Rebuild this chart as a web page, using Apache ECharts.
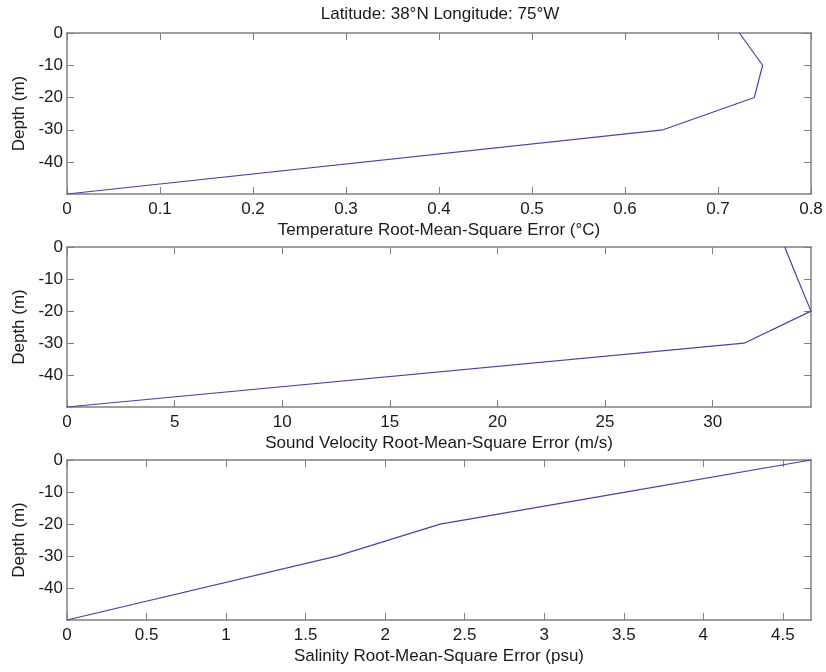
<!DOCTYPE html>
<html>
<head>
<meta charset="utf-8">
<script src="https://cdn.jsdelivr.net/npm/echarts@6/dist/echarts.min.js"></script>
<style>html,body{margin:0;padding:0;background:#fff}#c{width:826px;height:672px}</style>
</head>
<body>
<div id="c"></div>
<script>
// ---- data ----
const depth = [0, -10, -20, -30, -49.9];
const tempRmse = [0.723, 0.748, 0.739, 0.641, 0];
const soundRmse = [33.35, 33.95, 34.57, 31.46, 0];
const salRmse = [4.677, 3.51, 2.346, 1.696, 0];
const depthTicks = [0, -10, -20, -30, -40];
const tempTicks = [0, 0.1, 0.2, 0.3, 0.4, 0.5, 0.6, 0.7, 0.8];
const soundTicks = [0, 5, 10, 15, 20, 25, 30];
const salTicks = [0, 0.5, 1, 1.5, 2, 2.5, 3, 3.5, 4, 4.5];
const titleText = 'Latitude: 38°N Longitude: 75°W';
const xNames = ['Temperature Root-Mean-Square Error (°C)', 'Sound Velocity Root-Mean-Square Error (m/s)', 'Salinity Root-Mean-Square Error (psu)'];
const yName = 'Depth (m)';

const FONT = 'Liberation Sans, Arial, sans-serif';
const TXT = '#1a1a1a';
const AX = '#808080';
const LINE = '#4444aa';

const panels = [
  {vals: tempRmse, ticks: tempTicks, xmax: 0.8},
  {vals: soundRmse, ticks: soundTicks, xmax: Math.max(...soundRmse)},
  {vals: salRmse, ticks: salTicks, xmax: Math.max(...salRmse)}
];
const tops = [33, 247, 460];
const heights = [161, 160, 160];
const ymin = Math.min(...depth);

const grid = [], xAxis = [], yAxis = [], series = [];
panels.forEach((p, i) => {
  grid.push({left: 67, right: 15, top: tops[i], height: heights[i], show: false, containLabel: false});
  const tickBase = {show: true, inside: true, length: 7, lineStyle: {color: AX, width: 1}};
  const lineBase = {show: true, onZero: false, lineStyle: {color: AX, width: 1.5}};
  xAxis.push({
    type: 'value', gridIndex: i, position: 'bottom', min: 0, max: p.xmax,
    axisLine: lineBase,
    axisTick: Object.assign({customValues: p.ticks}, tickBase),
    axisLabel: {customValues: p.ticks, color: TXT, fontSize: 17, fontFamily: FONT, margin: 7},
    splitLine: {show: false},
    name: xNames[i], nameLocation: 'middle', nameGap: 28,
    nameTextStyle: {color: TXT, fontSize: 17, fontFamily: FONT}
  });
  xAxis.push({
    type: 'value', gridIndex: i, position: 'top', min: 0, max: p.xmax,
    axisLine: lineBase,
    axisTick: Object.assign({customValues: p.ticks}, tickBase),
    axisLabel: {show: false},
    splitLine: {show: false}
  });
  yAxis.push({
    type: 'value', gridIndex: i, position: 'left', min: ymin, max: 0,
    axisLine: lineBase,
    axisTick: Object.assign({customValues: depthTicks}, tickBase),
    axisLabel: {customValues: depthTicks, color: TXT, fontSize: 17, fontFamily: FONT, margin: 4},
    splitLine: {show: false},
    name: yName, nameLocation: 'middle', nameGap: 39,
    nameTextStyle: {color: TXT, fontSize: 17, fontFamily: FONT}
  });
  yAxis.push({
    type: 'value', gridIndex: i, position: 'right', min: ymin, max: 0,
    axisLine: lineBase,
    axisTick: Object.assign({customValues: depthTicks}, tickBase),
    axisLabel: {show: false},
    splitLine: {show: false}
  });
  series.push({
    type: 'line', xAxisIndex: 2 * i, yAxisIndex: 2 * i,
    data: p.vals.map((v, k) => [v, depth[k]]),
    showSymbol: false, symbol: 'none', clip: false,
    lineStyle: {color: LINE, width: 1.2}, animation: false
  });
});

const chart = echarts.init(document.getElementById('c'), null, {renderer: 'canvas'});
chart.setOption({
  animation: false,
  backgroundColor: '#ffffff',
  grid, xAxis, yAxis, series,
  graphic: [{
    type: 'text', x: 440, y: 6,
    style: {text: titleText, textAlign: 'center', textVerticalAlign: 'top', fill: TXT, fontSize: 17, fontFamily: FONT}
  }]
});
</script>
</body>
</html>
